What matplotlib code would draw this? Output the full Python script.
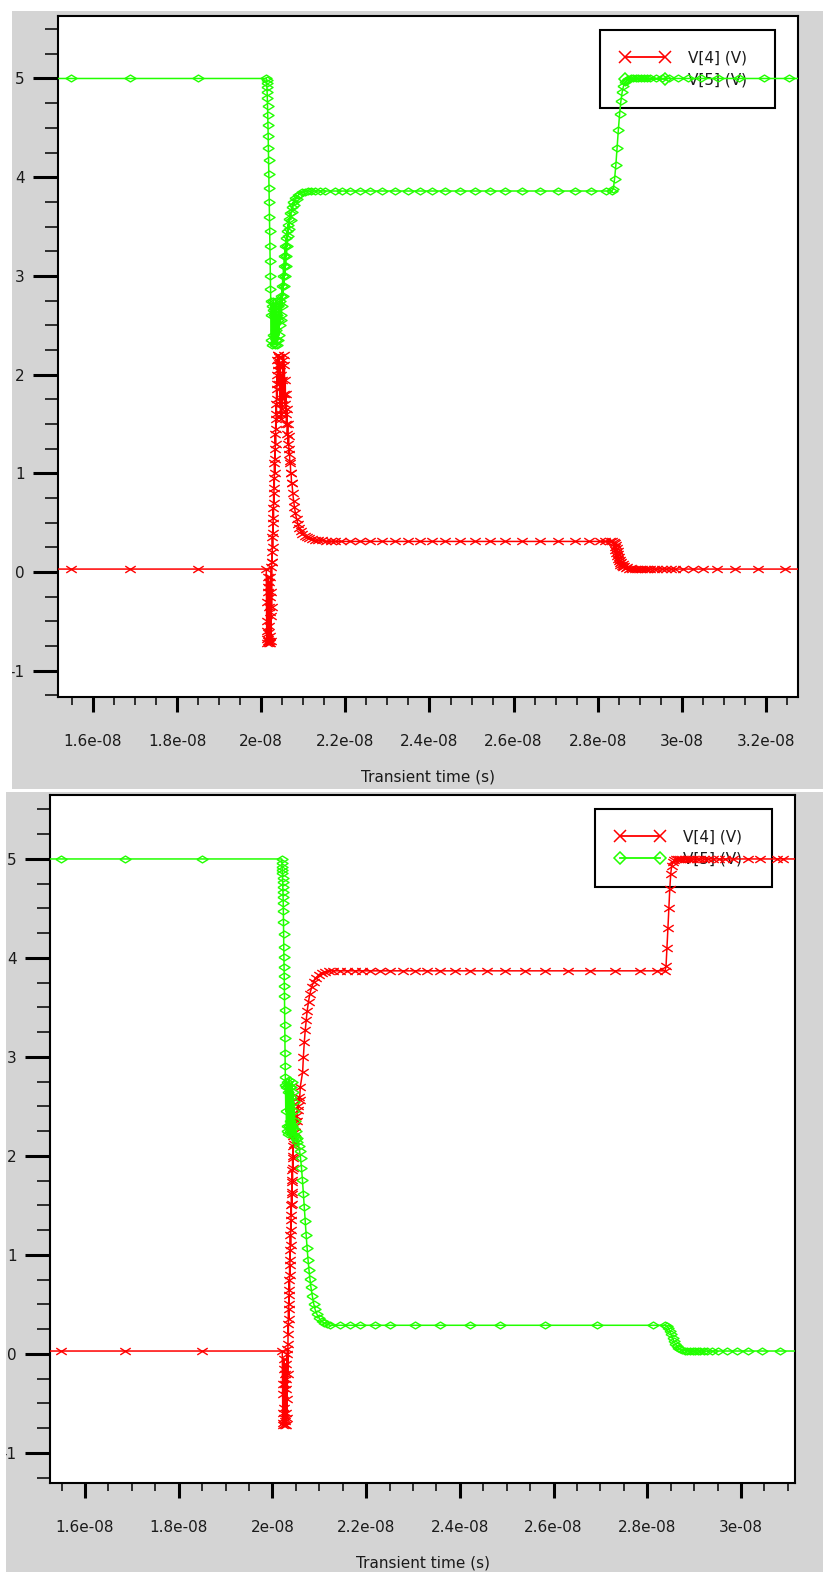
import numpy as np
from matplotlib import pyplot as plt
from matplotlib.lines import Line2D
from matplotlib.patches import Rectangle
from matplotlib.path import Path
from matplotlib.ticker import MultipleLocator, FixedLocator, FuncFormatter

# tempos em ns, tensoes em V
top_t4 = [15.0, 15.48, 16.88, 18.50, 20.12,
          20.125, 20.13, 20.135, 20.14, 20.145, 20.15, 20.155, 20.16, 20.165, 20.17, 20.175,
          20.18, 20.185, 20.19, 20.195, 20.20, 20.205, 20.21, 20.215, 20.22, 20.225, 20.23,
          20.235, 20.24, 20.245, 20.25,
          20.255, 20.26, 20.265, 20.27, 20.275, 20.28, 20.285, 20.29, 20.295, 20.30, 20.305,
          20.31, 20.315, 20.32, 20.325, 20.33, 20.335, 20.34, 20.345, 20.35, 20.355, 20.36,
          20.365, 20.37, 20.375, 20.38, 20.385, 20.39, 20.395,
          20.40, 20.41, 20.42, 20.43, 20.44, 20.45, 20.46, 20.47, 20.48, 20.49, 20.50, 20.51,
          20.52, 20.53, 20.54, 20.55, 20.56, 20.57, 20.58, 20.59, 20.60, 20.61, 20.62, 20.63,
          20.64, 20.65, 20.66, 20.67, 20.68, 20.69, 20.70, 20.71, 20.72, 20.73, 20.75, 20.77,
          20.79, 20.81, 20.84, 20.87, 20.90, 20.94, 20.98, 21.03, 21.08, 21.14, 21.20, 21.28,
          21.36, 21.45, 21.55, 21.65, 21.75, 21.90, 22.11, 22.35, 22.59, 22.88, 23.18, 23.48,
          23.78, 24.07, 24.37, 24.72, 25.08, 25.44, 25.80, 26.20, 26.63, 27.05, 27.46, 27.80,
          28.06, 28.18, 28.29, 28.35,
          28.39, 28.40, 28.41, 28.42, 28.43, 28.44, 28.45, 28.46, 28.47, 28.48, 28.49, 28.50,
          28.51, 28.52, 28.53, 28.54, 28.55, 28.57, 28.59, 28.61, 28.63, 28.66, 28.70, 28.74,
          28.78, 28.82, 28.88, 28.94, 29.00, 29.06, 29.12, 29.17, 29.25, 29.33, 29.41, 29.52,
          29.63, 29.74, 29.84, 30.03, 30.27, 30.51, 30.84, 31.27, 31.81, 32.46, 33.20]
top_v4 = [0.03, 0.03, 0.03, 0.03, 0.03,
          -0.3, -0.6, -0.72, -0.5, -0.68, -0.2, -0.7, -0.05, -0.62, -0.15, -0.72,
          -0.35, -0.7, -0.1, -0.55, -0.25, -0.72, -0.4, -0.65, -0.05, -0.45, -0.7,
          -0.2, 0.05, -0.35, 0.1,
          0.2, 0.1, 0.35, 0.25, 0.5, 0.4, 0.65, 0.55, 0.8, 0.7, 0.95,
          0.85, 1.1, 1.0, 1.25, 1.15, 1.4, 1.3, 1.55, 1.45, 1.7, 1.6,
          1.85, 1.75, 2.0, 1.9, 2.15, 2.05, 2.2,
          2.1, 2.2, 1.9, 2.18, 1.7, 2.1, 1.6, 2.0, 1.55, 1.95, 1.65, 2.15,
          1.75, 2.2, 1.8, 2.1, 1.7, 1.95, 1.6, 1.8, 1.5, 1.65, 1.4, 1.5,
          1.3, 1.38, 1.2, 1.25, 1.1, 1.12, 1.0, 1.0, 0.9, 0.9, 0.8, 0.72,
          0.66, 0.6, 0.54, 0.49, 0.45, 0.42, 0.39, 0.37, 0.35, 0.34, 0.33, 0.32,
          0.32, 0.32, 0.31, 0.31, 0.31, 0.31, 0.31, 0.31, 0.31, 0.31, 0.31, 0.31,
          0.31, 0.31, 0.31, 0.31, 0.31, 0.31, 0.31, 0.31, 0.31, 0.31, 0.31, 0.31,
          0.31, 0.31, 0.31, 0.31,
          0.3, 0.25, 0.29, 0.22, 0.27, 0.19, 0.24, 0.16, 0.21, 0.13, 0.18, 0.11,
          0.15, 0.09, 0.12, 0.07, 0.1, 0.06, 0.08, 0.05, 0.06, 0.04, 0.05, 0.035,
          0.04, 0.03, 0.03, 0.03, 0.03, 0.03, 0.03, 0.03, 0.03, 0.03, 0.03, 0.03,
          0.03, 0.03, 0.03, 0.03, 0.03, 0.03, 0.03, 0.03, 0.03, 0.03, 0.03]

top_t5 = [15.0, 15.48, 16.88, 18.50, 20.12,
          20.125, 20.13, 20.135, 20.14, 20.145, 20.15, 20.155, 20.16, 20.165, 20.17, 20.175,
          20.18, 20.185, 20.19, 20.195, 20.20, 20.205, 20.21, 20.215, 20.22, 20.225,
          20.23, 20.24, 20.25, 20.26, 20.27, 20.28, 20.29, 20.30, 20.31, 20.32, 20.33, 20.34,
          20.35, 20.36, 20.37, 20.38, 20.39, 20.40, 20.41, 20.42, 20.43, 20.44, 20.45, 20.46,
          20.47,
          20.48, 20.49, 20.50, 20.51, 20.52, 20.53, 20.54, 20.55, 20.56, 20.57, 20.58, 20.59,
          20.60, 20.61, 20.62, 20.63, 20.64, 20.65, 20.66, 20.68, 20.70, 20.72, 20.74, 20.76,
          20.78, 20.81, 20.84, 20.88, 20.92, 20.97, 21.03, 21.10, 21.18, 21.28,
          21.40, 21.52, 21.75, 21.93, 22.11, 22.35, 22.59, 22.88, 23.18, 23.48, 23.78, 24.07,
          24.37, 24.72, 25.08, 25.44, 25.80, 26.20, 26.63, 27.05, 27.46, 27.85, 28.20, 28.33,
          28.37, 28.40, 28.43, 28.46, 28.49, 28.52, 28.55, 28.58, 28.61, 28.65, 28.69, 28.73,
          28.78, 28.84, 28.90, 28.96, 29.02, 29.09, 29.17, 29.25, 29.38, 29.52, 29.70, 29.90,
          30.15, 30.45, 30.85, 31.35, 31.95, 32.55, 33.20]
top_v5 = [5.0, 5.0, 5.0, 5.0, 5.0,
          4.98, 4.95, 4.91, 4.86, 4.8, 4.72, 4.63, 4.53, 4.42, 4.3, 4.17,
          4.03, 3.89, 3.75, 3.6, 3.45, 3.3, 3.15, 3.0, 2.87, 2.75,
          2.6, 2.35, 2.7, 2.3, 2.65, 2.4, 2.75, 2.32, 2.6, 2.3, 2.7, 2.45,
          2.75, 2.35, 2.6, 2.3, 2.55, 2.35, 2.7, 2.4, 2.72, 2.5, 2.75, 2.55,
          2.8,
          2.6, 2.9, 2.7, 3.0, 2.8, 3.1, 2.9, 3.2, 3.0, 3.3, 3.1, 3.38,
          3.2, 3.45, 3.3, 3.52, 3.4, 3.58, 3.48, 3.64, 3.57, 3.7, 3.65, 3.75,
          3.72, 3.79, 3.78, 3.82, 3.83, 3.845, 3.855, 3.86, 3.86, 3.86,
          3.86, 3.86, 3.86, 3.86, 3.86, 3.86, 3.86, 3.86, 3.86, 3.86, 3.86, 3.86,
          3.86, 3.86, 3.86, 3.86, 3.86, 3.86, 3.86, 3.86, 3.86, 3.86, 3.86, 3.86,
          3.88, 3.98, 4.12, 4.3, 4.48, 4.64, 4.77, 4.86, 4.92, 4.96, 4.98, 4.99,
          5.0, 5.0, 5.0, 5.0, 5.0, 5.0, 5.0, 5.0, 5.0, 5.0, 5.0, 5.0,
          5.0, 5.0, 5.0, 5.0, 5.0, 5.0, 5.0]

bot_t4 = [15.0, 15.49, 16.85, 18.50, 20.21,
          20.215, 20.22, 20.225, 20.23, 20.235, 20.24, 20.245, 20.25, 20.255, 20.26, 20.265,
          20.27, 20.275, 20.28, 20.285, 20.29, 20.295, 20.30, 20.305, 20.31, 20.315, 20.32,
          20.325, 20.33,
          20.335, 20.339, 20.343, 20.347, 20.351, 20.355, 20.359, 20.363, 20.367, 20.371,
          20.375, 20.379, 20.383, 20.387, 20.391, 20.395, 20.399, 20.403, 20.407, 20.411,
          20.415, 20.419, 20.423, 20.427, 20.431, 20.435, 20.439, 20.443, 20.447,
          20.46, 20.475, 20.49, 20.505, 20.52, 20.535, 20.55, 20.565, 20.58, 20.595,
          20.645, 20.66, 20.68, 20.70, 20.72, 20.74, 20.77, 20.80, 20.84, 20.88, 20.93, 20.99,
          21.05, 21.12, 21.20,
          21.30, 21.44, 21.60, 21.76, 21.92, 22.08, 22.30, 22.51, 22.78, 23.04, 23.30, 23.58,
          23.90, 24.22, 24.58, 24.96, 25.40, 25.82, 26.30, 26.78, 27.30, 27.85, 28.20, 28.38,
          28.40, 28.42, 28.44, 28.46, 28.48, 28.50, 28.52, 28.55, 28.58, 28.62,
          28.66, 28.70, 28.75, 28.80, 28.86, 28.92, 28.98, 29.05, 29.13, 29.20, 29.30, 29.40,
          29.52, 29.65, 29.83, 30.15, 30.41, 30.77, 30.90, 31.50]
bot_v4 = [0.03, 0.03, 0.03, 0.03, 0.03,
          -0.3, -0.6, -0.72, -0.4, -0.7, -0.15, -0.65, -0.05, -0.55, -0.2, -0.72,
          -0.3, -0.68, -0.1, -0.6, -0.25, -0.72, -0.35, -0.65, 0.0, -0.45, 0.05,
          -0.2, 0.1,
          0.3, 0.2, 0.45, 0.35, 0.6, 0.5, 0.75, 0.65, 0.9, 0.8,
          1.05, 0.95, 1.2, 1.1, 1.35, 1.25, 1.5, 1.4, 1.62, 1.52,
          1.74, 1.64, 1.86, 1.76, 1.98, 1.88, 2.1, 2.0, 2.2,
          2.12, 2.3, 2.24, 2.4, 2.35, 2.5, 2.46, 2.6, 2.57, 2.7,
          2.85, 3.0, 3.15, 3.27, 3.37, 3.46, 3.56, 3.64, 3.71, 3.76, 3.8, 3.83,
          3.85, 3.86, 3.87,
          3.87, 3.87, 3.87, 3.87, 3.87, 3.87, 3.87, 3.87, 3.87, 3.87, 3.87, 3.87,
          3.87, 3.87, 3.87, 3.87, 3.87, 3.87, 3.87, 3.87, 3.87, 3.87, 3.87, 3.87,
          3.92, 4.1, 4.3, 4.5, 4.7, 4.85, 4.93, 4.97, 4.99, 5.0,
          5.0, 5.0, 5.0, 5.0, 5.0, 5.0, 5.0, 5.0, 5.0, 5.0, 5.0, 5.0,
          5.0, 5.0, 5.0, 5.0, 5.0, 5.0, 5.0, 5.0]

bot_t5 = [15.0, 15.49, 16.85, 18.50, 20.20,
          20.203, 20.206, 20.209, 20.212, 20.215, 20.218, 20.221, 20.224, 20.227, 20.230,
          20.233, 20.236, 20.239, 20.242, 20.245, 20.248, 20.251, 20.254, 20.257, 20.260,
          20.263, 20.266, 20.269, 20.272, 20.275, 20.278,
          20.285, 20.293, 20.301, 20.309, 20.317, 20.325, 20.333, 20.341, 20.349, 20.357,
          20.365, 20.373, 20.381, 20.389, 20.397, 20.405, 20.413, 20.421, 20.429, 20.437,
          20.445, 20.453, 20.461, 20.469, 20.477, 20.485, 20.495, 20.505, 20.515, 20.525,
          20.56, 20.58, 20.60, 20.62, 20.64, 20.66, 20.68, 20.70, 20.72, 20.74, 20.76, 20.78,
          20.80, 20.82, 20.85, 20.88, 20.91, 20.95, 21.00, 21.05, 21.11, 21.17, 21.23,
          21.44, 21.66, 21.87, 22.19, 22.51, 23.04, 23.58, 24.22, 24.86, 25.82, 26.93, 28.12,
          28.38,
          28.42, 28.45, 28.48, 28.51, 28.54, 28.57, 28.60, 28.63, 28.66, 28.70, 28.75, 28.80,
          28.85, 28.91, 28.97, 29.02, 29.08, 29.13, 29.20, 29.28, 29.38, 29.51, 29.70, 29.92,
          30.15, 30.45, 30.83, 31.50]
bot_v5 = [5.0, 5.0, 5.0, 5.0, 5.0,
          4.96, 4.92, 4.89, 4.86, 4.81, 4.77, 4.72, 4.67, 4.62, 4.56,
          4.47, 4.36, 4.24, 4.11, 4.01, 3.91, 3.82, 3.72, 3.62, 3.47,
          3.32, 3.19, 3.04, 2.91, 2.8, 2.72,
          2.45, 2.7, 2.3, 2.75, 2.25, 2.65, 2.22, 2.72, 2.3, 2.77,
          2.35, 2.7, 2.25, 2.6, 2.22, 2.7, 2.3, 2.75, 2.28, 2.65,
          2.22, 2.55, 2.2, 2.45, 2.2, 2.35, 2.17, 2.25, 2.14, 2.18,
          2.1, 2.05, 1.98, 1.88, 1.76, 1.62, 1.48, 1.34, 1.2, 1.07, 0.95, 0.85,
          0.76, 0.68, 0.59, 0.51, 0.45, 0.4, 0.36, 0.33, 0.31, 0.3, 0.29,
          0.29, 0.29, 0.29, 0.29, 0.29, 0.29, 0.29, 0.29, 0.29, 0.29, 0.29, 0.29,
          0.29,
          0.28, 0.26, 0.23, 0.2, 0.16, 0.13, 0.1, 0.08, 0.06, 0.05, 0.04, 0.035,
          0.03, 0.03, 0.03, 0.03, 0.03, 0.03, 0.03, 0.03, 0.03, 0.03, 0.03, 0.03,
          0.03, 0.03, 0.03, 0.03]

x_ticks_top = [16, 18, 20, 22, 24, 26, 28, 30, 32]
x_ticks_bot = [16, 18, 20, 22, 24, 26, 28, 30]
y_ticks = [-1, 0, 1, 2, 3, 4, 5]
nomes = ['V[4] (V)', 'V[5] (V)']

W, H = 823, 1572
CINZA = '#d4d4d4'
VERMELHO = '#ff0000'
VERDE = '#22ff00'
# marcadores largos, como no programa original
losango = [(-1, 0), (0, 0.62), (1, 0), (0, -0.62), (-1, 0)]
xis = Path([(-1, -0.65), (1, 0.65), (-1, 0.65), (1, -0.65)],
           [Path.MOVETO, Path.LINETO, Path.MOVETO, Path.LINETO])


def caixa(x0, y0, x1, y1):
    # converte pixeis (origem em cima) para coordenadas da figura
    return [x0 / W, 1 - y1 / H, (x1 - x0) / W, (y1 - y0) / H]


def retangulo(fig, x0, y0, x1, y1, cor, z):
    c = caixa(x0, y0, x1, y1)
    fig.patches.append(Rectangle((c[0], c[1]), c[2], c[3], transform=fig.transFigure,
                                 facecolor=cor, edgecolor='none', zorder=z))


def faz_painel(fig, pos, t4, v4, t5, v5, xticks, xlim, ylim, leg_pos):
    ax = fig.add_axes(pos)
    ax.set_facecolor('white')
    ax.plot(np.array(t4) * 1e-9, v4, color=VERMELHO, lw=1.1, marker=xis,
            markersize=7.5, markerfacecolor='none', markeredgewidth=1.0, zorder=3)
    ax.plot(np.array(t5) * 1e-9, v5, color=VERDE, lw=1.1, marker=losango,
            markersize=8, markerfacecolor='none', markeredgewidth=1.0, zorder=3)
    ax.set_xlim(xlim[0] * 1e-9, xlim[1] * 1e-9)
    ax.set_ylim(ylim)

    ax.xaxis.set_major_locator(FixedLocator([v * 1e-9 for v in xticks]))
    ax.xaxis.set_minor_locator(MultipleLocator(0.5e-9))
    ax.xaxis.set_major_formatter(FuncFormatter(lambda v, p: '%g' % v))
    ax.yaxis.set_major_locator(FixedLocator(y_ticks))
    ax.yaxis.set_minor_locator(MultipleLocator(0.25))
    ax.yaxis.set_major_formatter(FuncFormatter(lambda v, p: '%d' % round(v)))

    ax.tick_params(axis='x', which='major', direction='out', length=10.8, width=2.2,
                   pad=16, labelsize=11, labelcolor='#1a1a1a')
    ax.tick_params(axis='x', which='minor', direction='out', length=6, width=1.1)
    ax.tick_params(axis='y', which='major', direction='out', length=18, width=2.2,
                   pad=6, labelsize=11, labelcolor='#1a1a1a')
    ax.tick_params(axis='y', which='minor', direction='out', length=9.5, width=1.1)
    for s in ax.spines.values():
        s.set_linewidth(1.5)
        s.set_color('black')

    ax.set_xlabel('Transient time (s)', fontsize=11, color='#1a1a1a')
    alt = pos[3] * H
    ax.xaxis.set_label_coords(0.5, -80 / alt)
    ax.xaxis.label.set_va('center')

    pegas = [Line2D([], [], color=VERMELHO, lw=1.3, marker='x', markersize=8,
                    markeredgewidth=1.1),
             Line2D([], [], color=VERDE, lw=1.3, marker='D', markersize=6,
                    markerfacecolor='none', markeredgewidth=1.1)]
    leg = ax.legend(pegas, nomes, loc='upper left', bbox_to_anchor=leg_pos,
                    mode='expand', borderaxespad=0, fancybox=False, framealpha=1,
                    edgecolor='black', fontsize=11, borderpad=1.35, labelspacing=0.45,
                    handlelength=3.2, handletextpad=1.2, numpoints=2)
    leg.get_frame().set_linewidth(1.5)
    for txt in leg.get_texts():
        txt.set_color('#1a1a1a')
    leg.set_zorder(1)
    return ax


fig = plt.figure(figsize=(W / 100, H / 100), dpi=100, facecolor='white')
retangulo(fig, 12, 11, W, 789, CINZA, -5)
retangulo(fig, 5, 792, W, H, CINZA, -5)

top_pos = caixa(58, 16, 798, 697)
faz_painel(fig, top_pos, top_t4, top_v4, top_t5, top_v5, x_ticks_top,
           (15.168, 32.761), (-1.266, 5.633),
           ((600 - 58) / 740, 0, 175 / 740, (697 - 30) / 681))

bot_pos = caixa(50, 795, 795, 1483)
faz_painel(fig, bot_pos, bot_t4, bot_v4, bot_t5, bot_v5, x_ticks_bot,
           (15.253, 31.152), (-1.303, 5.646),
           ((595 - 50) / 745, 0, 177 / 745, (1483 - 809) / 688))

# recorte branco nas margens esquerdas (como na captura original)
retangulo(fig, 0, 0, 12, 791, 'white', 10)
retangulo(fig, 0, 791, 6, H, 'white', 10)

plt.savefig('out.png', dpi=100, facecolor='white')
